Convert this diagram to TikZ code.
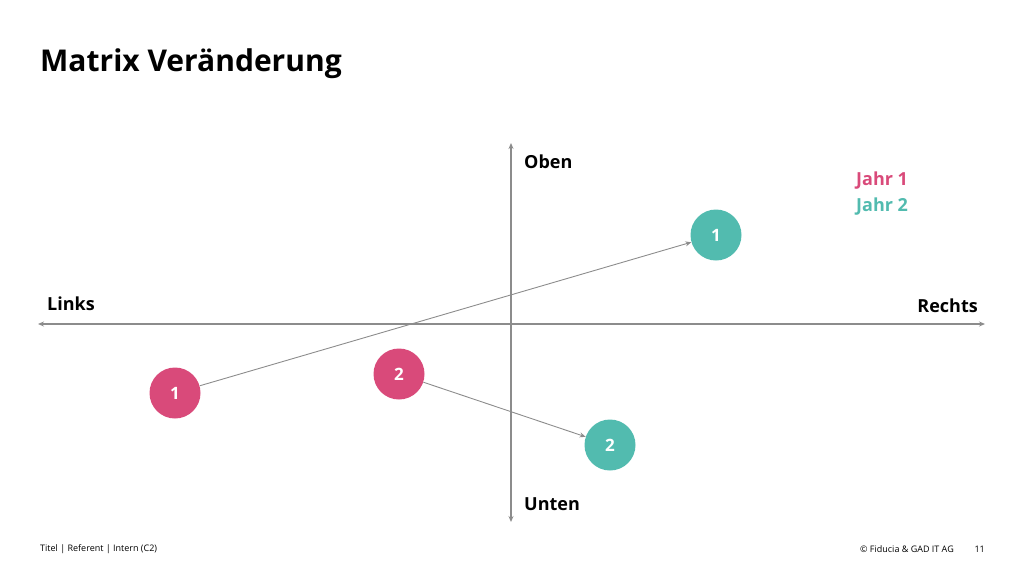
\documentclass[tikz,border=0pt]{standalone}
\usepackage{fontspec}
\setmainfont{Open Sans}
\usetikzlibrary{arrows.meta}
\definecolor{pink}{HTML}{D94A7A}
\definecolor{teal}{HTML}{52BBAF}
\definecolor{axisgray}{HTML}{8C8C8C}
\begin{document}
\begin{tikzpicture}[x=1pt,y=-1pt,
  axis/.style={draw=axisgray,line width=1.8pt,{Stealth[length=6pt,width=5pt]}-{Stealth[length=6pt,width=5pt]}},
  dot/.style={circle,minimum size=51pt,inner sep=0pt,text=white,font=\fontsize{17}{17}\selectfont\bfseries},
  move/.style={draw=axisgray,line width=0.9pt,-{Stealth[length=6pt,width=5pt]}},
  lab/.style={font=\fontsize{18}{18}\selectfont\bfseries,inner sep=0pt}]
\useasboundingbox (0,0) rectangle (1024,576);
\node[anchor=west,font=\fontsize{30}{30}\selectfont\bfseries,inner sep=0pt] (title) at (40,64) {Matrix Veränderung};
\coordinate (L) at (38,324); \coordinate (R) at (985,324);
\coordinate (T) at (511,143); \coordinate (B) at (511,522);
\draw[axis] (L) -- (R);
\draw[axis] (T) -- (B);
\node[lab,anchor=west] (oben) at (524,162) {Oben};
\node[lab,anchor=west] (unten) at (524,504) {Unten};
\node[lab,anchor=west] (links) at (47,304) {Links};
\node[lab,anchor=east] (rechts) at (978,306) {Rechts};
\node[lab,anchor=west,text=pink] (j1) at (856,181) {Jahr 1};
\node[lab,anchor=west,text=teal] (j2) at (856,207) {Jahr 2};
\node[dot,fill=teal] (t1) at (716,235) {1};
\node[dot,fill=pink] (p1) at (175,393) {1};
\node[dot,fill=pink] (p2) at (399,374) {2};
\node[dot,fill=teal] (t2) at (610,445) {2};
\draw[move] (p1) -- (t1);
\draw[move] (p2) -- (t2);
\node[anchor=west,font=\fontsize{9}{9}\selectfont,inner sep=0pt] (f1) at (40,549) {Titel | Referent | Intern (C2)};
\node[anchor=east,font=\fontsize{9}{9}\selectfont,inner sep=0pt] (f2) at (954,549) {© Fiducia \& GAD IT AG};
\node[anchor=east,font=\fontsize{9}{9}\selectfont,inner sep=0pt] (f3) at (985,549) {11};
\end{tikzpicture}
\end{document}
